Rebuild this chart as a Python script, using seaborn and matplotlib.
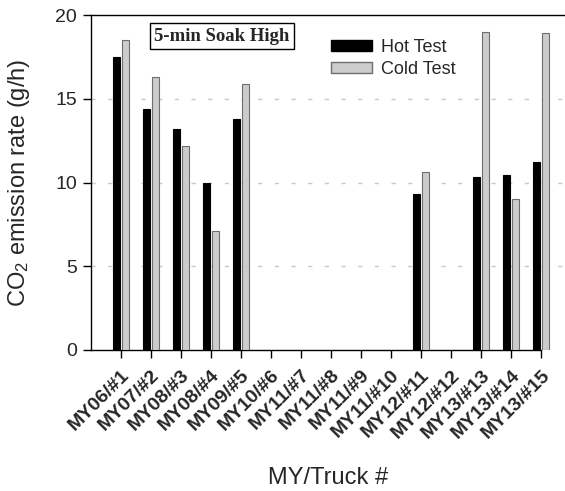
import numpy as np
import pandas as pd
import matplotlib
matplotlib.use("Agg")
import matplotlib.pyplot as plt
from matplotlib.patches import Patch
import seaborn as sns

sns.set_style("ticks")
plt.rcParams['font.family'] = ['Liberation Sans', 'DejaVu Sans']
plt.rcParams['mathtext.fontset'] = 'custom'
plt.rcParams['mathtext.rm'] = 'Liberation Sans'
plt.rcParams['mathtext.it'] = 'Liberation Sans:italic'

# values (nan = no bar drawn)
trucks = ['MY06/#1', 'MY07/#2', 'MY08/#3', 'MY08/#4', 'MY09/#5', 'MY10/#6', 'MY11/#7', 'MY11/#8',
          'MY11/#9', 'MY11/#10', 'MY12/#11', 'MY12/#12', 'MY13/#13', 'MY13/#14', 'MY13/#15']
hot_test = [17.5, 14.4, 13.2, 9.95, 13.8, np.nan, np.nan, np.nan,
            np.nan, np.nan, 9.3, np.nan, 10.3, 10.45, 11.2]
cold_test = [18.5, 16.3, 12.2, 7.1, 15.9, np.nan, np.nan, np.nan,
             np.nan, np.nan, 10.65, np.nan, 19.0, 9.0, 18.95]
series = ['Hot Test', 'Cold Test']

df = pd.DataFrame({
    'Truck': trucks * 2,
    'Test': [series[0]] * len(trucks) + [series[1]] * len(trucks),
    'Rate': hot_test + cold_test,
}).dropna()

W, H = 565, 491
fig = plt.figure(figsize=(W / 100, H / 100), dpi=100)
ax = fig.add_axes([91 / W, 141 / H, 1 - 91 / W, 335 / H])

sns.barplot(data=df, x='Truck', y='Rate', hue='Test', order=trucks, hue_order=series,
            palette={'Hot Test': 'black', 'Cold Test': '#cccccc'},
            width=0.567, gap=0.18, errorbar=None, legend=False, ax=ax, zorder=3)

# cold bars get a darker grey outline
for bar in ax.patches:
    fc = bar.get_facecolor()
    if fc[0] > 0.5:
        bar.set_edgecolor('#6e6e6e')
    else:
        bar.set_edgecolor('black')
    bar.set_linewidth(0.8)

ax.set_ylim(0, 20)
ax.set_yticks([0, 5, 10, 15, 20])
ax.set_xlim(-1, 14.8)
for yv in [5, 10, 15]:
    ax.axhline(yv, color='#c8c8c8', linestyle=(0, (3, 9)), linewidth=1, zorder=1)

ax.spines['right'].set_visible(False)
ax.spines['bottom'].set_bounds(-1, 14)
for s in ['left', 'top', 'bottom']:
    ax.spines[s].set_linewidth(1)
    ax.spines[s].set_color('black')

ax.tick_params(axis='both', direction='out', length=6, width=1, color='black')
ax.tick_params(axis='y', labelsize=14, pad=4)
ax.set_xticks(range(len(trucks)))
ax.set_xticklabels(trucks, rotation=45, ha='right', va='top', rotation_mode='anchor',
                   fontsize=14, fontweight='bold')
ax.tick_params(axis='x', pad=6)

ax.set_ylabel('CO$_2$ emission rate (g/h)', fontsize=17, labelpad=17)
ax.set_xlabel('MY/Truck #', fontsize=17, labelpad=18)

ax.text(0.276, 0.937, '5-min Soak High', transform=ax.transAxes, ha='center', va='center',
        fontsize=13.5, fontweight='bold', family='Liberation Serif',
        bbox=dict(boxstyle='square,pad=0.22', fc='white', ec='black', lw=1), zorder=5)

handles = [Patch(facecolor='black', edgecolor='black', label='Hot Test'),
           Patch(facecolor='#cccccc', edgecolor='#6e6e6e', label='Cold Test')]
ax.legend(handles=handles, loc='upper left', bbox_to_anchor=(0.506, 0.928), frameon=False,
          fontsize=13, handlelength=2.3, handleheight=0.6, handletextpad=0.5,
          labelspacing=0.25, borderpad=0, borderaxespad=0)

fig.savefig('out.png', dpi=100)
